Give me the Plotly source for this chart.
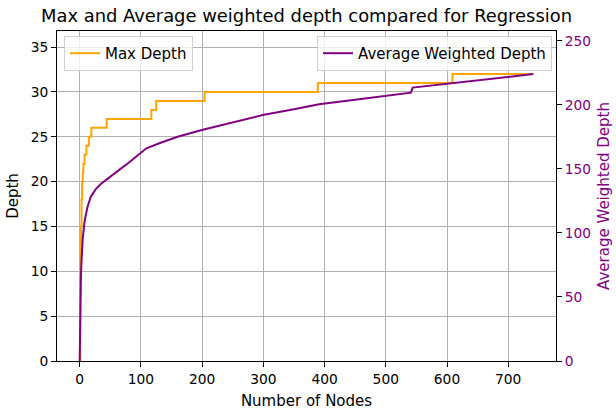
import plotly.graph_objects as go

# Max depth (step function, value holds until next x)
max_x = [0, 1, 2, 3, 4, 5, 6, 8, 11, 15, 19, 44, 117, 125, 204, 389, 609, 741]
max_depth = [0, 11, 15, 18, 20, 21, 22, 23, 24, 25, 26, 27, 28, 29, 30, 31, 32, 32]

# Average weighted depth
avg_x = [0, 1, 2, 3, 5, 8, 12.6, 18, 26, 34, 42, 52, 64, 78, 91, 109, 130, 160,
         201, 250, 299, 350, 391, 450, 500, 541, 544, 600, 650, 700, 741]
avg_depth = [0, 50, 66, 78, 96, 109, 120, 128, 134, 138, 141, 145, 149, 154, 159,
             166, 170, 175, 180.5, 186, 192, 196.5, 200.4, 204, 207, 209.5, 213.4,
             216.5, 219, 221.8, 224]

x_ticks = [0, 100, 200, 300, 400, 500, 600, 700]
left_ticks = [0, 5, 10, 15, 20, 25, 30, 35]
right_ticks = [0, 50, 100, 150, 200, 250]

FONT = "DejaVu Sans"
ORANGE = "#FFA500"
PURPLE = "#800080"
TICK_SIZE = 13.8
LABEL_SIZE = 15

fig = go.Figure()
fig.add_trace(go.Scatter(x=max_x, y=max_depth, mode="lines", name="Max Depth",
                         line=dict(color=ORANGE, width=2, shape="hv"),
                         legend="legend"))
fig.add_trace(go.Scatter(x=avg_x, y=avg_depth, mode="lines", name="Average Weighted Depth",
                         line=dict(color=PURPLE, width=2), yaxis="y2",
                         legend="legend2"))

axis_common = dict(showline=True, linecolor="black", linewidth=1, mirror=True,
                   ticks="outside", ticklen=5, tickcolor="black", automargin=False,
                   tickfont=dict(family=FONT, size=TICK_SIZE, color="black"), zeroline=False)

fig.update_layout(
    width=616, height=410,
    margin=dict(l=57, r=60, t=31, b=49),
    plot_bgcolor="white", paper_bgcolor="white",
    font=dict(family=FONT, size=TICK_SIZE, color="black"),
    title=dict(text="Max and Average weighted depth compared for Regression",
               x=0.5, xref="paper", xanchor="center",
               y=1 - 16 / 410, yref="container", yanchor="middle",
               font=dict(family=FONT, size=17.9, color="black")),
    xaxis=dict(range=[-37.05, 778.05], tickvals=x_ticks,
               showgrid=True, gridcolor="#b0b0b0", gridwidth=1,
               title=dict(text="Number of Nodes", standoff=9,
                          font=dict(family=FONT, size=LABEL_SIZE)),
               **axis_common),
    yaxis=dict(range=[0, 36.8], tickvals=left_ticks,
               showgrid=True, gridcolor="#b0b0b0", gridwidth=1,
               title=dict(text="Depth", standoff=8, font=dict(family=FONT, size=LABEL_SIZE)),
               **axis_common),
    yaxis2=dict(range=[0, 257.6], tickvals=right_ticks, overlaying="y", side="right",
                showgrid=False, showline=True, linecolor="black", linewidth=1,
                ticks="outside", ticklen=5, tickcolor="black", zeroline=False,
                automargin=False,
                tickfont=dict(family=FONT, size=TICK_SIZE, color=PURPLE),
                title=dict(text="Average Weighted Depth", standoff=8,
                           font=dict(family=FONT, size=LABEL_SIZE, color=PURPLE))),
    legend=dict(x=0.014, y=0.985, xanchor="left", yanchor="top",
                bgcolor="rgba(255,255,255,0.8)", bordercolor="#d0d0d0", borderwidth=1,
                font=dict(family=FONT, size=LABEL_SIZE), itemwidth=30),
    legend2=dict(x=0.992, y=0.985, xanchor="right", yanchor="top",
                 bgcolor="rgba(255,255,255,0.8)", bordercolor="#d0d0d0", borderwidth=1,
                 font=dict(family=FONT, size=LABEL_SIZE), itemwidth=30),
    showlegend=True,
)

fig.write_html("out.html")
